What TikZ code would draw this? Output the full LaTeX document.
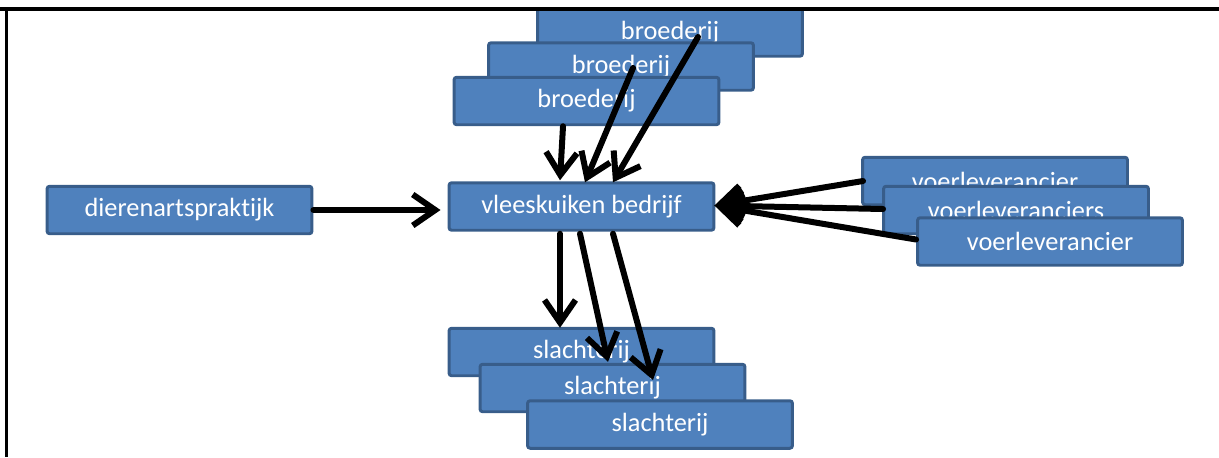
\documentclass[tikz,border=0pt]{standalone}
\usepackage{fontspec}
\setmainfont{Carlito}[Ligatures={NoCommon,NoContextual}]
\usetikzlibrary{arrows.meta}
\definecolor{boxfill}{HTML}{4F81BD}
\definecolor{boxline}{HTML}{385D8A}
\tikzset{
  box/.style={draw=boxline, fill=boxfill, line width=1.7pt, rounded corners=1.5pt,
    minimum width=5.3cm, minimum height=0.95cm, inner sep=0pt, text=white,
    font=\fontsize{15}{18}\selectfont},
  arr/.style={line width=0.12cm, line cap=round, line join=round,
    -{Straight Barb[length=0.45cm, width=0.62cm, line width=0.12cm]}},
  frame/.style={line width=2.2pt}
}
\begin{document}
\begin{tikzpicture}[x=0.02cm, y=-0.02cm]
\useasboundingbox (0,0) rectangle (1219,457);
% broederij
\node[box] (b1) at (670,32.5) {broederij};
\node[box] (b2) at (621,66.5) {broederij};
\node[box] (b3) at (586.5,101) {broederij};
% centre and left
\node[box] (dier) at (179.5,210) {dierenartspraktijk};
\node[box] (vk) at (581.5,206.5) {vleeskuiken bedrijf};
% voerleveranciers
\node[box] (v1) at (995,181) {voerleverancier};
\node[box] (v2) at (1016,210) {voerleveranciers};
\node[box] (v3) at (1050,241.5) {voerleverancier};
% slachterij
\node[box] (s1) at (581.5,352) {slachterij};
\node[box] (s2) at (612.5,388) {slachterij};
\node[box] (s3) at (660,424.5) {slachterij};
% arrows from broederij
\draw[arr] ([shift={(-23.5,0)}]b3.south) -- ([shift={(-21.5,-1)}]vk.north);
\draw[arr] ([shift={(12,1.5)}]b2.center) -- ([shift={(3.5,1)}]vk.north);
\draw[arr] ([shift={(28,4.5)}]b1.center) -- ([shift={(31.5,1)}]vk.north);
% dierenarts
\draw[arr, shorten >=7*0.02cm] (dier.east) -- (vk.west |- dier.east);
% voer
\draw[arr] ([shift={(2,0)}]v1.west) -- ([shift={(-1,-1)}]vk.east);
\draw[arr] ([shift={(1,-1)}]v2.west) -- ([shift={(-1,-1)}]vk.east);
\draw[arr] ([shift={(0,-2)}]v3.west) -- ([shift={(-1,-1)}]vk.east);
% slachterij
\draw[arr] ([shift={(-21.5,2)}]vk.south) -- ([shift={(-21.5,1)}]s1.north);
\draw[arr] ([shift={(-1.5,2)}]vk.south) -- ([shift={(-4.5,-1)}]s2.north);
\draw[arr] ([shift={(31.5,2)}]vk.south) -- ([shift={(-7,-44.5)}]s3.center);
% frame
\draw[frame] (0,9) -- (1219,9);
\draw[frame] (6.5,9) -- (6.5,457);
\end{tikzpicture}
\end{document}
